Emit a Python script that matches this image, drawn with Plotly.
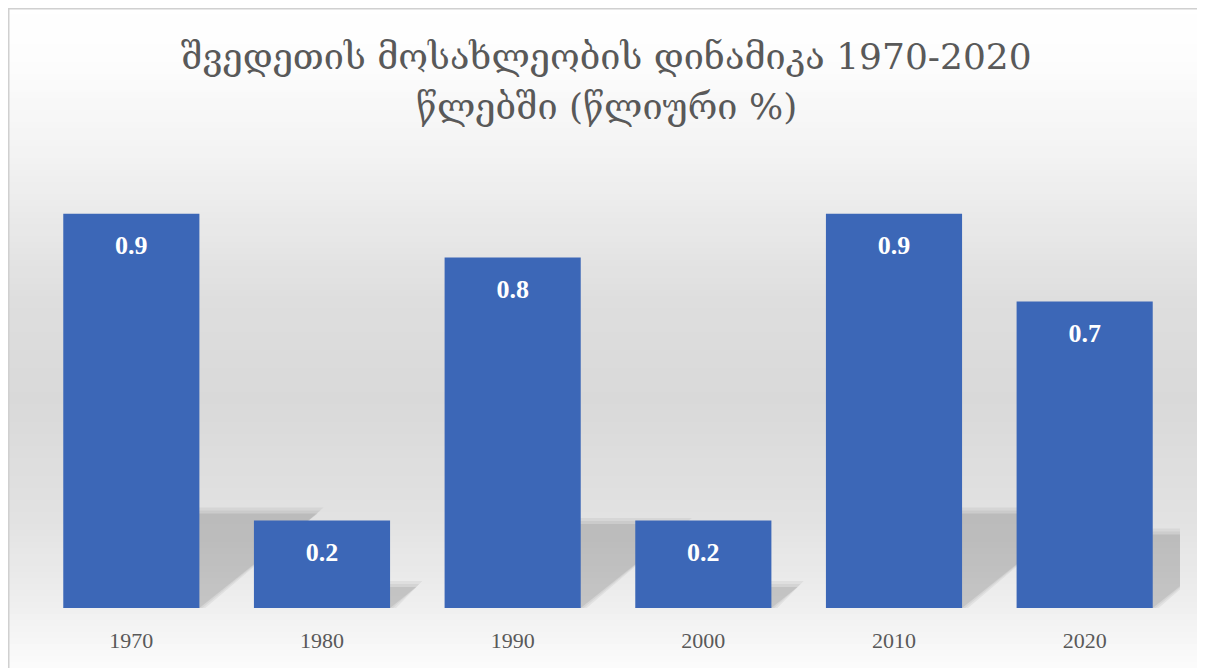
import plotly.graph_objects as go

categories = ["1970", "1980", "1990", "2000", "2010", "2020"]
values = [0.9, 0.2, 0.8, 0.2, 0.9, 0.7]
labels = ["0.9", "0.2", "0.8", "0.2", "0.9", "0.7"]
title_line1 = "შვედეთის მოსახლეობის დინამიკა 1970-2020"
title_line2 = "წლებში (წლიური %)"

# page is rendered with an 8px body margin, so coordinates below are page-8
W, H = 1197, 660
ml, mr, mt, mb = 28, 25, 162, 60
pw, ph = W - ml - mr, H - mt - mb
YMAX = 1.0
XMIN, XMAX = -0.5, len(categories) - 0.5
BARW = 0.714

def py2paper(py):  # page pixel -> paper y
    return (H - mb - (py - 8)) / ph

def px2paper(px):
    return ((px - 8) - ml) / pw

xs = list(range(len(categories)))
fig = go.Figure()

fig.add_trace(go.Bar(
    x=xs, y=values, width=BARW,
    marker=dict(color="#3c67b7", line=dict(width=0)),
    hoverinfo="skip", showlegend=False,
))
fig.add_trace(go.Scatter(
    x=xs, y=values, text=labels, mode="markers+text",
    textposition="bottom center",
    marker=dict(size=32, opacity=0),
    textfont=dict(family="Liberation Serif, serif", size=26, color="white", weight="bold"),
    hoverinfo="skip", showlegend=False, cliponaxis=False,
))

# background gradient (white -> gray -> white)
shapes = []
def grad(py):
    pts = [(0, 255), (60, 253), (160, 242), (300, 222), (400, 217), (520, 226), (600, 238), (668, 252)]
    for (a, ca), (b, cb) in zip(pts, pts[1:]):
        if a <= py <= b:
            t = (py - a) / (b - a)
            return int(round(ca + (cb - ca) * t))
    return 255

step = 6
for py in range(8, 668 + step, step):
    g = grad(py + step / 2)
    shapes.append(dict(type="rect", xref="paper", yref="paper",
                       x0=px2paper(0), x1=px2paper(1205 + 10),
                       y0=py2paper(py + step), y1=py2paper(py),
                       fillcolor=f"rgb({g},{g},{g})", line=dict(width=0), layer="below"))

# perspective shadows (derived from bar values), drawn behind the bars
px_per_x = pw / (XMAX - XMIN)
px_per_y = ph / YMAX
for alpha, grow in [(0.05, 6), (0.05, 3), (0.08, 0)]:
    for xi, v in zip(xs, values):
        hs = 0.24 * v + grow / px_per_y
        d = (0.24 * v * px_per_y * 1.25) / px_per_x
        L = xi - BARW / 2
        R = xi + BARW / 2 + grow / px_per_x
        path = f"M {L},0 L {R},0 L {R + d},{hs} L {L + d},{hs} Z"
        shapes.append(dict(type="path", xref="x", yref="y", path=path,
                           fillcolor=f"rgba(0,0,0,{alpha})", line=dict(width=0),
                           layer="between"))

# border
shapes.append(dict(type="rect", xref="paper", yref="paper",
                   x0=px2paper(8.75), x1=px2paper(1200.5),
                   y0=py2paper(720), y1=py2paper(8.75),
                   fillcolor="rgba(0,0,0,0)", line=dict(color="#d0d0d0", width=1.5), layer="above"))

title_font = dict(family="DejaVu Serif, DejaVu Sans, serif", size=36, color="#595959")
annotations = [
    dict(text=title_line1, xref="paper", yref="paper", x=px2paper(606), y=py2paper(57),
         xanchor="center", yanchor="middle", showarrow=False, font=title_font),
    dict(text=title_line2, xref="paper", yref="paper", x=px2paper(606), y=py2paper(106),
         xanchor="center", yanchor="middle", showarrow=False, font=title_font),
]

fig.update_layout(
    width=W, height=H,
    margin=dict(l=ml, r=mr, t=mt, b=mb, autoexpand=False),
    paper_bgcolor="white", plot_bgcolor="rgba(0,0,0,0)",
    shapes=shapes, annotations=annotations,
    showlegend=False,
    xaxis=dict(range=[XMIN, XMAX], tickvals=xs, ticktext=categories,
               showgrid=False, zeroline=False, showline=False, ticks="",
               tickfont=dict(family="Liberation Serif, serif", size=22, color="#595959"),
               ticklabelstandoff=17),
    yaxis=dict(range=[0, YMAX], visible=False, showgrid=False, zeroline=False),
)

fig.write_html("out.html")
